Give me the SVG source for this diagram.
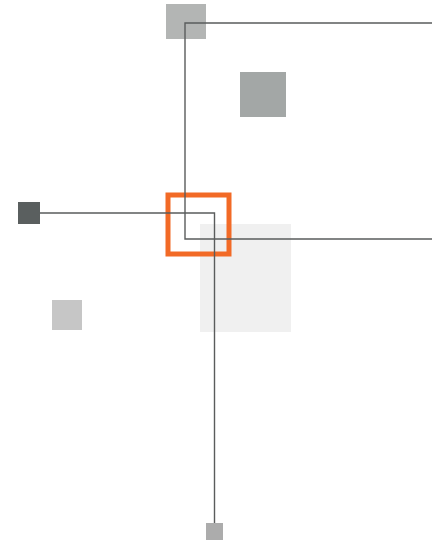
<svg xmlns="http://www.w3.org/2000/svg" width="432" height="542" viewBox="0 0 432 542">
<style>
.wire{fill:none;stroke:#5a5c5c;stroke-width:1.4}
</style>
<rect width="432" height="542" fill="#ffffff"/>
<g id="panel"><rect x="200" y="224" width="91" height="108" fill="#f0f0f0"/></g>
<g id="node-top"><rect x="166" y="4" width="40" height="35" fill="#b3b5b4"/></g>
<g id="node-mid"><rect x="240" y="72" width="46" height="45" fill="#a3a7a6"/></g>
<g id="node-left"><rect x="18" y="202" width="22" height="22" fill="#5a5f5f"/></g>
<g id="node-small"><rect x="52" y="300" width="30" height="30" fill="#c6c6c6"/></g>
<g id="node-bottom"><rect x="206" y="523" width="17" height="17" fill="#acacac"/></g>
<g id="focus"><rect x="168" y="195" width="61" height="59" fill="none" stroke="#f26a26" stroke-width="5"/></g>
<g id="connectors">
<polyline class="wire" points="432,23 185,23 185,239 432,239"/>
<polyline class="wire" points="40,213 214.5,213 214.5,523"/>
</g>
</svg>
